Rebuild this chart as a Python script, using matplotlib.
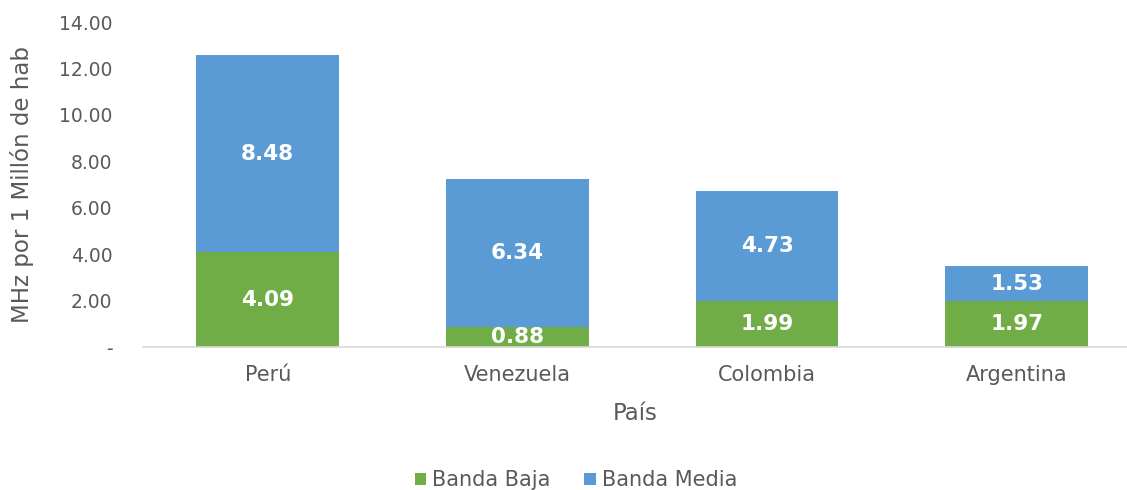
import numpy as np
import matplotlib.pyplot as plt

paises = ['Perú', 'Venezuela', 'Colombia', 'Argentina']
banda_baja = [4.09, 0.88, 1.99, 1.97]
banda_media = [8.48, 6.34, 4.73, 1.53]
yticks = [0, 2, 4, 6, 8, 10, 12, 14]

verde = '#70AD47'
azul = '#5B9BD5'
gris = '#595959'

fig = plt.figure(figsize=(11.27, 4.9), dpi=100)
ax = fig.add_axes([143 / 1127, 1 - 347 / 490, 1 - 143 / 1127, (347 - 22) / 490])

x = np.arange(len(paises))
w = 0.572
b1 = ax.bar(x, banda_baja, w, color=verde, label='Banda Baja')
b2 = ax.bar(x, banda_media, w, bottom=banda_baja, color=azul, label='Banda Media')

for rects, vals, bots in [(b1, banda_baja, [0] * 4), (b2, banda_media, banda_baja)]:
    for r, v, b in zip(rects, vals, bots):
        ax.text(r.get_x() + r.get_width() / 2, b + v / 2, f'{v:.2f}',
                ha='center', va='center', color='white', fontsize=15.5, fontweight='bold')

ax.set_ylim(0, 14)
ax.set_xlim(-0.5, 3 + (1127 - 1016.5) / 250)
ax.set_yticks(yticks)
ax.set_yticklabels([f'{t:.2f}' if t else '-' for t in yticks])
ax.set_xticks(x)
ax.set_xticklabels(paises)
ax.tick_params(axis='y', length=0, pad=22, labelsize=13.5, labelcolor=gris)
ax.tick_params(axis='x', length=0, pad=13, labelsize=15, labelcolor=gris)

for s in ['top', 'right', 'left']:
    ax.spines[s].set_visible(False)
ax.spines['bottom'].set_color('#D9D9D9')
ax.spines['bottom'].set_linewidth(1.2)

ax.set_xlabel('País', fontsize=16.5, color=gris, labelpad=12)
ax.set_ylabel('MHz por 1 Millón de hab', fontsize=16.5, color=gris)
ax.yaxis.set_label_coords(-0.111, 0.5)

ax.legend(loc='center', bbox_to_anchor=(0.44, -0.41), ncol=2, frameon=False,
          fontsize=15, labelcolor=gris, handlelength=0.55, handleheight=0.55,
          handletextpad=0.3, columnspacing=1.6)

plt.savefig('out.png', dpi=100)
